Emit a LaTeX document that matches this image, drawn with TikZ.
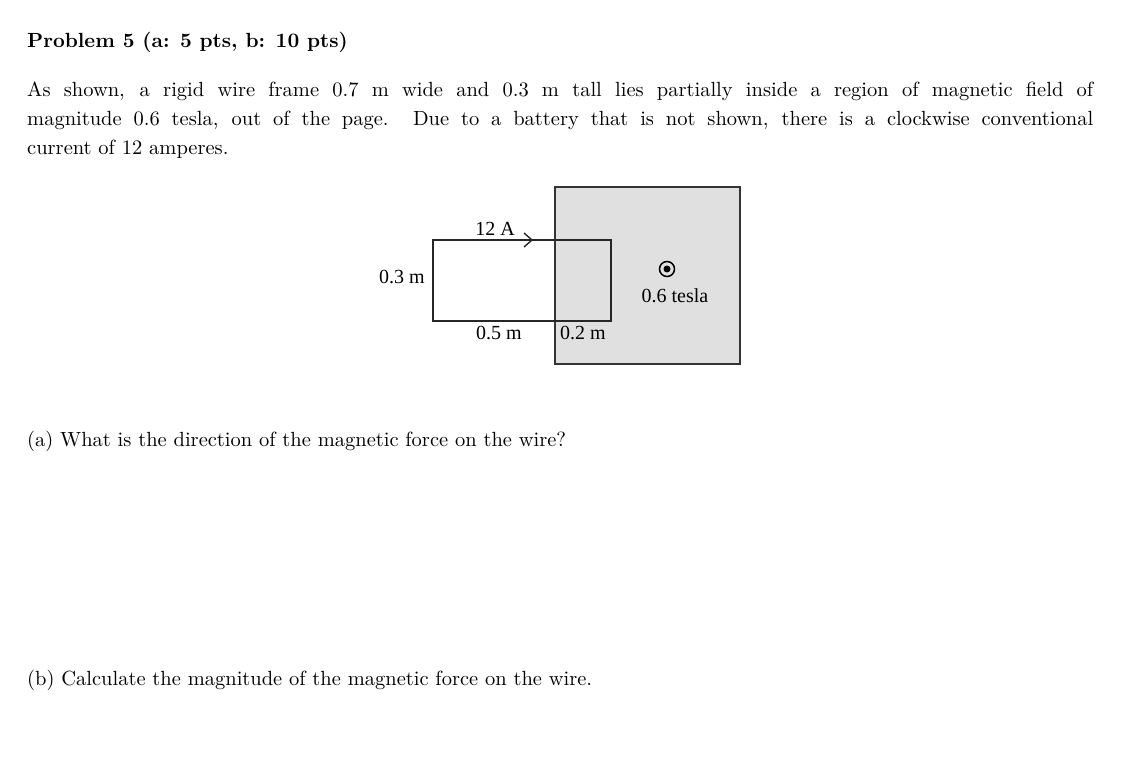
\documentclass[tikz,border=0pt]{standalone}
\usepackage{fontspec}
\setmainfont{lmroman10-regular.otf}[BoldFont=lmroman10-bold.otf]
\newfontfamily\tms{Liberation Serif}
\begin{document}
\begin{tikzpicture}[x=1pt,y=-1pt,
  lbl/.style={font=\tms\fontsize{20}{22}\selectfont, inner sep=0pt},
  txt/.style={font=\fontsize{20.5}{29}\selectfont, inner sep=0pt, anchor=base west}]
\useasboundingbox (0,0) rectangle (1125,771);
\node[txt, font=\bfseries\fontsize{20.5}{29}\selectfont] (title) at (27,47) {Problem 5 (a: 5 pts, b: 10 pts)};
\node[txt] (p1) at (27,96) {\makebox[1066pt][s]{As shown, a rigid wire frame 0.7 m wide and 0.3 m tall lies partially inside a region of magnetic field of}};
\node[txt] (p2) at (27,125) {\makebox[1066pt][s]{magnitude 0.6 tesla, out of the page. Due to a battery that is not shown, there is a clockwise conventional}};
\node[txt] (p3) at (27,154) {current of 12 amperes.};
\node[txt] (qa) at (27,446) {(a) What is the direction of the magnetic force on the wire?};
\node[txt] (qb) at (27,685) {(b) Calculate the magnitude of the magnetic force on the wire.};
% field region
\draw[fill=black!12, line width=1.5pt, draw=black!80] (555,187) rectangle (740,364);
% wire frame
\draw[line width=1.5pt, draw=black!85] (433,240) rectangle (611,321);
\coordinate (ar) at (532,240);
\draw[line width=1.4pt, draw=black!85] ([shift={(-8,-7)}]ar) -- (ar) -- ([shift={(-8,7)}]ar);
\node[circle, draw, line width=1.5pt, minimum size=15pt, inner sep=0pt] (dot) at (667,269) {};
\fill (dot.center) circle (3.5pt);
\node[lbl] (l12) at (495,229) {12 A};
\node[lbl] (l03) at (402,277) {0.3 m};
\node[lbl] (l05) at (499,333) {0.5 m};
\node[lbl] (l02) at (583,333) {0.2 m};
\node[lbl] (lt) at (675,296) {0.6 tesla};
\end{tikzpicture}
\end{document}
